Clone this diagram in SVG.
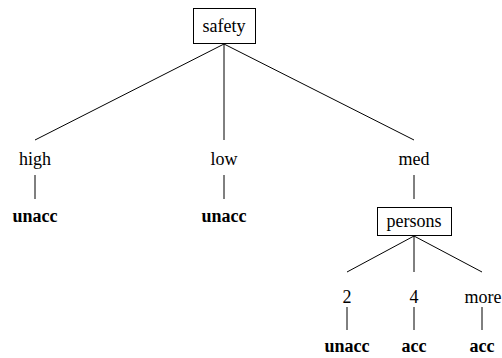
<svg xmlns="http://www.w3.org/2000/svg" width="502" height="358" viewBox="0 0 502 358">
  <style>
    .lbl { font-size: 18px; fill: #000; text-anchor: middle; }
    .leaf { font-weight: bold; }
    .box { fill: #fff; stroke: #000; stroke-width: 1; }
    .edge { stroke: #000; stroke-width: 1; fill: none; }
  </style>
  <rect width="502" height="358" fill="#fff"/>
  <g id="connectors">
    <line class="edge" x1="224" y1="44" x2="35" y2="140"/>
    <line class="edge" x1="224" y1="44" x2="224" y2="140"/>
    <line class="edge" x1="224" y1="44" x2="414" y2="140"/>
    <line class="edge" x1="35" y1="175" x2="35" y2="199"/>
    <line class="edge" x1="224" y1="175" x2="224" y2="199"/>
    <line class="edge" x1="414" y1="175" x2="414" y2="199"/>
    <line class="edge" x1="414" y1="236" x2="347" y2="272"/>
    <line class="edge" x1="414" y1="236" x2="414" y2="272"/>
    <line class="edge" x1="414" y1="236" x2="482" y2="272"/>
    <line class="edge" x1="347" y1="307" x2="347" y2="330"/>
    <line class="edge" x1="414" y1="307" x2="414" y2="330"/>
    <line class="edge" x1="482" y1="307" x2="482" y2="330"/>
  </g>
  <g font-family="Liberation Serif, Times New Roman, serif">
    <g id="n-safety">
      <rect class="box" x="193.5" y="8.5" width="62" height="35"/>
      <text class="lbl" x="224" y="32">safety</text>
    </g>
    <g id="n-high"><text class="lbl" x="35" y="165">high</text></g>
    <g id="n-low"><text class="lbl" x="224" y="165">low</text></g>
    <g id="n-med"><text class="lbl" x="414" y="165">med</text></g>
    <g id="n-high-unacc"><text class="lbl leaf" x="35" y="222">unacc</text></g>
    <g id="n-low-unacc"><text class="lbl leaf" x="224" y="222">unacc</text></g>
    <g id="n-persons">
      <rect class="box" x="377.5" y="207.5" width="74" height="28"/>
      <text class="lbl" x="414" y="227">persons</text>
    </g>
    <g id="n-2"><text class="lbl" x="347" y="303">2</text></g>
    <g id="n-4"><text class="lbl" x="414" y="303">4</text></g>
    <g id="n-more"><text class="lbl" x="483" y="303">more</text></g>
    <g id="n-2-unacc"><text class="lbl leaf" x="347" y="352">unacc</text></g>
    <g id="n-4-acc"><text class="lbl leaf" x="414" y="352">acc</text></g>
    <g id="n-more-acc"><text class="lbl leaf" x="482" y="352">acc</text></g>
  </g>
</svg>
